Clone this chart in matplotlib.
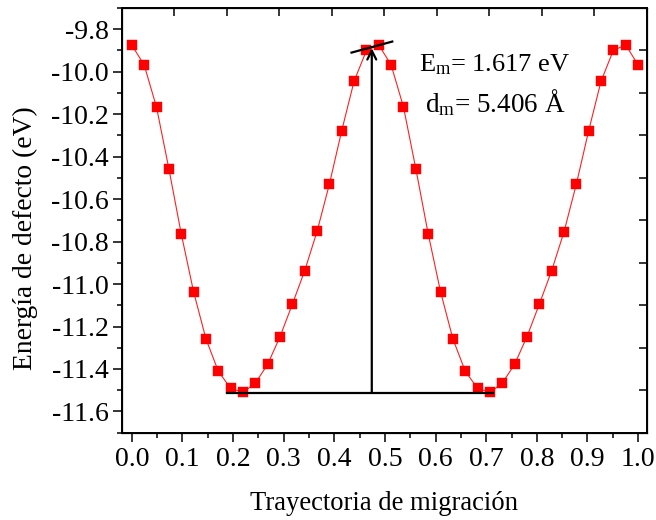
import matplotlib
matplotlib.use("Agg")
import matplotlib.pyplot as plt
from matplotlib.ticker import MultipleLocator

plt.rcParams["font.family"] = ["Liberation Serif", "DejaVu Serif"]
plt.rcParams["mathtext.fontset"] = "custom"
plt.rcParams["mathtext.rm"] = "Liberation Serif"
plt.rcParams["mathtext.it"] = "Liberation Serif:italic"

# Migration path coordinate and defect energy (eV)
trayectoria = [0.0000, 0.0244, 0.0488, 0.0732, 0.0976, 0.1220, 0.1463, 0.1707,
               0.1951, 0.2195, 0.2439, 0.2683, 0.2927, 0.3171, 0.3415, 0.3659,
               0.3902, 0.4146, 0.4390, 0.4634, 0.4878, 0.5122, 0.5366, 0.5610,
               0.5854, 0.6098, 0.6341, 0.6585, 0.6829, 0.7073, 0.7317, 0.7561,
               0.7805, 0.8049, 0.8293, 0.8537, 0.8780, 0.9024, 0.9268, 0.9512,
               0.9756, 1.0000]
energia = [-9.875, -9.968, -10.167, -10.457, -10.763, -11.036, -11.257, -11.410,
           -11.491, -11.510, -11.467, -11.378, -11.248, -11.095, -10.937, -10.752,
           -10.530, -10.278, -10.045, -9.900, -9.874, -9.968, -10.166, -10.457,
           -10.763, -11.036, -11.257, -11.410, -11.491, -11.510, -11.467, -11.378,
           -11.248, -11.095, -10.937, -10.754, -10.530, -10.278, -10.045, -9.899,
           -9.874, -9.968]

# Barrier construction lines
e_min = -11.512
e_max = -9.889
x_barrera = 0.474
x_base = [0.1875, 0.714]
tangente_x = [0.434, 0.5145]
tangente_y = [-9.910, -9.858]

fig = plt.figure(figsize=(6.56, 5.20), dpi=100)
ax = fig.add_axes([0.1855, 0.1679, 0.8003, 0.8167])

ax.plot(trayectoria, energia, color="#ff2020", lw=0.8, zorder=2)
ax.plot(trayectoria, energia, ls="none", marker="s", ms=6.6,
        mfc="#ff0000", mec="#ff0000", mew=0.3, zorder=3)

ax.plot(x_base, [e_min, e_min], color="black", lw=1.6, zorder=4)
ax.annotate("", xy=(x_barrera, e_max), xytext=(x_barrera, e_min),
            arrowprops=dict(arrowstyle="->", color="black", lw=1.6,
                            mutation_scale=16, shrinkA=0, shrinkB=0),
            zorder=4)
ax.plot(tangente_x, tangente_y, color="black", lw=1.6, zorder=4)

ax.text(0.5665, -9.999, r"E$_{\mathrm{m}}$= 1.617 eV", fontsize=19,
        ha="left", va="baseline")
ax.text(0.5785, -10.19, r"d$_{\mathrm{m}}$= 5.406 Å", fontsize=19.5,
        ha="left", va="baseline")

ax.set_xlim(-0.02, 1.017)
ax.set_ylim(-11.7, -9.7)
ax.xaxis.set_major_locator(MultipleLocator(0.1))
ax.xaxis.set_minor_locator(MultipleLocator(0.05))
ax.yaxis.set_major_locator(MultipleLocator(0.2))
ax.yaxis.set_minor_locator(MultipleLocator(0.1))
ax.xaxis.set_major_formatter(plt.FuncFormatter(lambda v, p: f"{v:.1f}"))
ax.yaxis.set_major_formatter(plt.FuncFormatter(lambda v, p: f"{v:.1f}"))

for s in ax.spines.values():
    s.set_linewidth(1.4)
ax.tick_params(which="major", direction="out", length=6.2, width=1.1,
               labelsize=20, pad=3)
ax.tick_params(which="minor", direction="out", length=3.4, width=1.1)
ax.tick_params(axis="x", which="major", pad=4)

# Mirror ticks on the top and right frame
top = ax.twiny()
top.set_xlim(0, 1)
top.set_xticks([i / 10 for i in range(1, 10)])
top.tick_params(axis="x", direction="in", length=6.0, width=1.1,
                labeltop=False, top=True)
right = ax.twinx()
right.set_ylim(0, 1)
right.set_yticks([i / 10 for i in range(1, 10)])
right.tick_params(axis="y", direction="in", length=6.0, width=1.1,
                  labelright=False, right=True)

ax.set_xlabel("Trayectoria de migración", fontsize=19.2)
ax.xaxis.set_label_coords(0.5, -0.137)
ax.set_ylabel("Energía de defecto (eV)", fontsize=19.8)
ax.yaxis.set_label_coords(-0.16, 0.458)

fig.savefig("out.png", dpi=100)
